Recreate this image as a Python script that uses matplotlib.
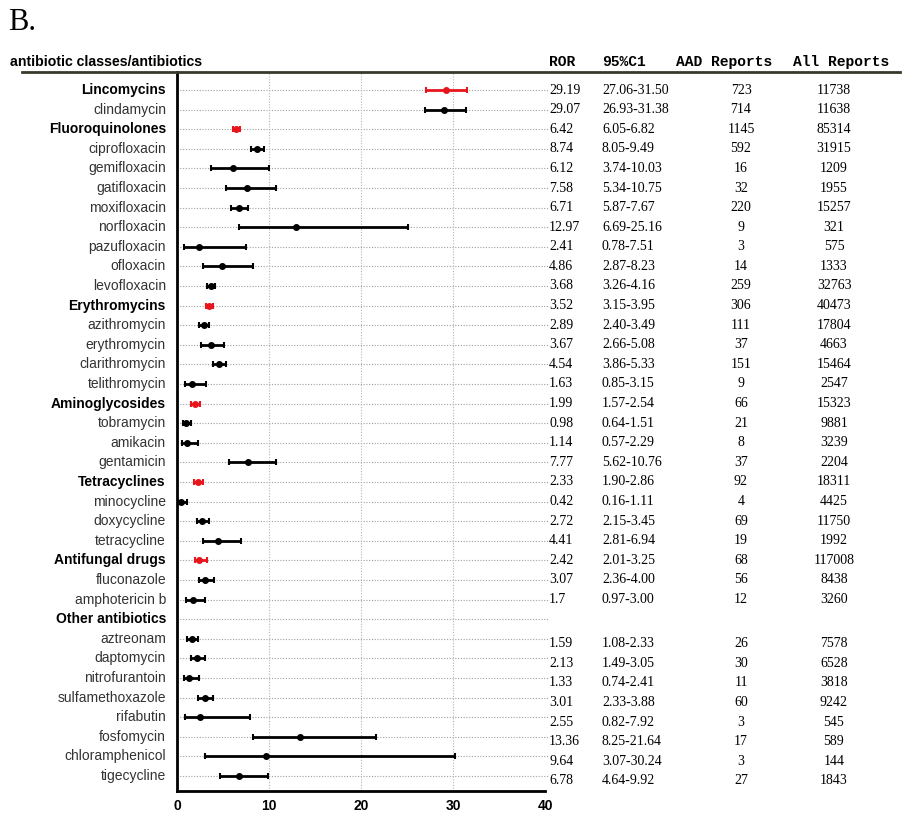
import numpy as np
import matplotlib
matplotlib.use('Agg')
import matplotlib.pyplot as plt
from matplotlib.lines import Line2D

# Data
names = ['Lincomycins', 'clindamycin', 'Fluoroquinolones', 'ciprofloxacin', 'gemifloxacin',
         'gatifloxacin', 'moxifloxacin', 'norfloxacin', 'pazufloxacin', 'ofloxacin',
         'levofloxacin', 'Erythromycins', 'azithromycin', 'erythromycin', 'clarithromycin',
         'telithromycin', 'Aminoglycosides', 'tobramycin', 'amikacin', 'gentamicin',
         'Tetracyclines', 'minocycline', 'doxycycline', 'tetracycline', 'Antifungal drugs',
         'fluconazole', 'amphotericin b', 'Other antibiotics', 'aztreonam', 'daptomycin',
         'nitrofurantoin', 'sulfamethoxazole', 'rifabutin', 'fosfomycin', 'chloramphenicol',
         'tigecycline']
classes = ['Lincomycins', 'Fluoroquinolones', 'Erythromycins', 'Aminoglycosides',
           'Tetracyclines', 'Antifungal drugs', 'Other antibiotics']

ror = [29.19, 29.07, 6.42, 8.74, 6.12, 7.58, 6.71, 12.97, 2.41, 4.86, 3.68, 3.52, 2.89, 3.67,
       4.54, 1.63, 1.99, 0.98, 1.14, 7.77, 2.33, 0.42, 2.72, 4.41, 2.42, 3.07, 1.7, None,
       1.59, 2.13, 1.33, 3.01, 2.55, 13.36, 9.64, 6.78]
lo = [27.06, 26.93, 6.05, 8.05, 3.74, 5.34, 5.87, 6.69, 0.78, 2.87, 3.26, 3.15, 2.40, 2.66,
      3.86, 0.85, 1.57, 0.64, 0.57, 5.62, 1.90, 0.16, 2.15, 2.81, 2.01, 2.36, 0.97, None,
      1.08, 1.49, 0.74, 2.33, 0.82, 8.25, 3.07, 4.64]
hi = [31.50, 31.38, 6.82, 9.49, 10.03, 10.75, 7.67, 25.16, 7.51, 8.23, 4.16, 3.95, 3.49, 5.08,
      5.33, 3.15, 2.54, 1.51, 2.29, 10.76, 2.86, 1.11, 3.45, 6.94, 3.25, 4.00, 3.00, None,
      2.33, 3.05, 2.41, 3.88, 7.92, 21.64, 30.24, 9.92]
ror_txt = ['29.19', '29.07', '6.42', '8.74', '6.12', '7.58', '6.71', '12.97', '2.41', '4.86',
           '3.68', '3.52', '2.89', '3.67', '4.54', '1.63', '1.99', '0.98', '1.14', '7.77',
           '2.33', '0.42', '2.72', '4.41', '2.42', '3.07', '1.7', '', '1.59', '2.13', '1.33',
           '3.01', '2.55', '13.36', '9.64', '6.78']
ci_txt = ['27.06-31.50', '26.93-31.38', '6.05-6.82', '8.05-9.49', '3.74-10.03', '5.34-10.75',
          '5.87-7.67', '6.69-25.16', '0.78-7.51', '2.87-8.23', '3.26-4.16', '3.15-3.95',
          '2.40-3.49', '2.66-5.08', '3.86-5.33', '0.85-3.15', '1.57-2.54', '0.64-1.51',
          '0.57-2.29', '5.62-10.76', '1.90-2.86', '0.16-1.11', '2.15-3.45', '2.81-6.94',
          '2.01-3.25', '2.36-4.00', '0.97-3.00', '', '1.08-2.33', '1.49-3.05', '0.74-2.41',
          '2.33-3.88', '0.82-7.92', '8.25-21.64', '3.07-30.24', '4.64-9.92']
aad = ['723', '714', '1145', '592', '16', '32', '220', '9', '3', '14', '259', '306', '111',
       '37', '151', '9', '66', '21', '8', '37', '92', '4', '69', '19', '68', '56', '12', '',
       '26', '30', '11', '60', '3', '17', '3', '27']
allrep = ['11738', '11638', '85314', '31915', '1209', '1955', '15257', '321', '575', '1333',
          '32763', '40473', '17804', '4663', '15464', '2547', '15323', '9881', '3239', '2204',
          '18311', '4425', '11750', '1992', '117008', '8438', '3260', '', '7578', '6528',
          '3818', '9242', '545', '589', '144', '1843']

RED = '#e8161c'
serif = 'Liberation Serif'
sans = 'Liberation Sans'

fig = plt.figure(figsize=(9.02, 8.13), dpi=100)
ax = fig.add_axes([177 / 902, 1 - 791 / 813, (545 - 177) / 902, (791 - 72) / 813])

n = len(names)
ax.set_ylim(n - 1 + 0.77, -0.92)
ax.set_xlim(0, 40)

# dotted row lines and vertical grid
for i in range(n):
    ax.plot([0, 40.4], [i, i], color='#a0a0a0', lw=0.8, ls=(0, (1, 1.5)), clip_on=False, zorder=1)
for xv in [10, 20, 30]:
    ax.axvline(xv, color='#b5b5b5', lw=0.8, ls=(0, (1, 1.5)), zorder=1)

for i in range(n):
    if ror[i] is None:
        continue
    c = RED if names[i] in classes else 'black'
    ax.errorbar(ror[i], i, xerr=[[ror[i] - lo[i]], [hi[i] - ror[i]]], fmt='o', color=c,
                ms=4, elinewidth=2, capsize=2.5, capthick=1.5, zorder=3)

ax.set_yticks([])
ax.set_xticks([0, 10, 20, 30, 40])
ax.set_xticklabels(['0', '10', '20', '30', '40'], fontfamily=sans, fontweight='bold', fontsize=10)
ax.tick_params(axis='x', length=0, pad=6)
for s in ['top', 'right']:
    ax.spines[s].set_visible(False)
ax.spines['left'].set_linewidth(2)
ax.spines['bottom'].set_linewidth(2)

# row labels
for i, nm in enumerate(names):
    bold = nm in classes
    ax.text(-1.2, i, nm, ha='right', va='center', fontfamily=sans, fontsize=10,
            fontweight='bold' if bold else 'normal', color='black' if bold else '#333333')

# table columns (figure pixel coords)
def fx(px):
    return px / 902

for i in range(n):
    yy = i + (0.25 if i > 27 else 0)
    yf = ax.transData.transform((0, yy))[1] / fig.bbox.height
    fig.text(fx(549), yf, ror_txt[i], ha='left', va='center', fontfamily=serif, fontsize=10)
    fig.text(fx(602), yf, ci_txt[i], ha='left', va='center', fontfamily=serif, fontsize=10)
    fig.text(fx(741), yf, aad[i], ha='center', va='center', fontfamily=serif, fontsize=10)
    fig.text(fx(834), yf, allrep[i], ha='center', va='center', fontfamily=serif, fontsize=10)

# headers
hy = 1 - 62 / 813
fig.text(fx(10), hy, 'antibiotic classes/antibiotics', ha='left', va='center',
         fontfamily=sans, fontweight='bold', fontsize=10.2)
for px, h in [(549, 'ROR'), (602, '95%C1'), (676, 'AAD Reports'), (793, 'All Reports')]:
    fig.text(fx(px), hy, h, ha='left', va='center', fontfamily='Liberation Mono',
             fontweight='bold', fontsize=10.5)
fig.add_artist(Line2D([fx(22), fx(900)], [1 - 72 / 813, 1 - 72 / 813], color='#3a3a2a', lw=2))

fig.text(fx(8), 1 - 22 / 813, 'B.', ha='left', va='center', fontfamily=serif, fontsize=22)

fig.savefig('out.png', dpi=100)
